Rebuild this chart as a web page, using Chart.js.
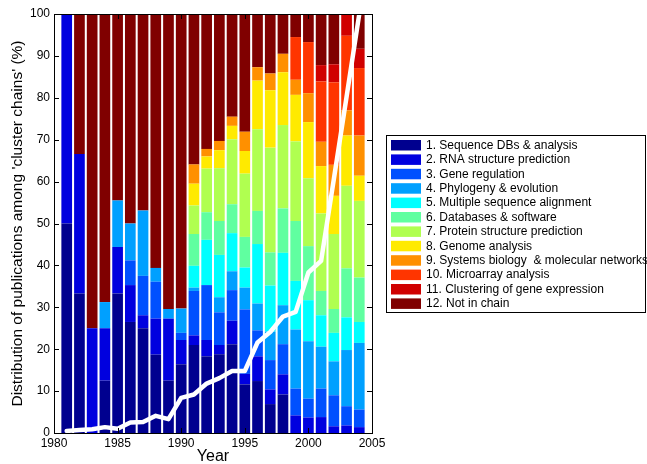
<!DOCTYPE html>
<html>
<head>
<meta charset="utf-8">
<script src="https://cdn.jsdelivr.net/npm/chart.js@4.4.1/dist/chart.umd.min.js"></script>
<style>
  html, body { margin: 0; padding: 0; background: #fff; }
  #wrap { width: 647px; height: 464px; }
</style>
</head>
<body>
<div id="wrap"><canvas id="clusterChart" width="647" height="464"></canvas></div>
<script>
// data (percent of publications per year)
const years = [1981, 1982, 1983, 1984, 1985, 1986, 1987, 1988, 1989, 1990, 1991, 1992,
  1993, 1994, 1995, 1996, 1997, 1998, 1999, 2000, 2001, 2002, 2003, 2004];

const categories = [
  "1. Sequence DBs & analysis",
  "2. RNA structure prediction",
  "3. Gene regulation",
  "4. Phylogeny & evolution",
  "5. Multiple sequence alignment",
  "6. Databases & software",
  "7. Protein structure prediction",
  "8. Genome analysis",
  "9. Systems biology  & molecular networks",
  "10. Microarray analysis",
  "11. Clustering of gene expression",
  "12. Not in chain"
];

const seqDBs = [50, 33.3, 0, 12.5, 33.3, 26.5, 25, 18.7, 12.5, 16.4, 21.0, 18.3, 18.8, 21.2, 11.6, 12.4, 6.9, 9.2, 0, 0, 0, 0, 0, 0];
const rnaStructure = [50, 33.3, 25, 12.5, 11.1, 8.8, 3.1, 8.6, 14.8, 5.8, 2.3, 3.9, 2.2, 5.6, 2.5, 5.9, 3.5, 4.8, 4.2, 3.7, 3.8, 1.6, 1.8, 1.4];
const geneRegulation = [0, 0, 0, 0, 0, 5.9, 9.4, 8.8, 0, 1.7, 10.6, 13.1, 7.8, 7.3, 15.4, 6.2, 7.0, 7.2, 6.4, 4.5, 6.8, 7.4, 4.6, 4.2];
const phylogeny = [0, 0, 0, 6.25, 11.1, 8.8, 15.6, 3.3, 2.3, 5.8, 0.8, 0, 3.6, 4.5, 5.2, 6.4, 6.8, 9.3, 14.1, 13.7, 10.0, 8.1, 13.4, 15.9];
const msa = [0, 0, 0, 0, 0, 0, 0, 0, 0, 0, 5.2, 10.8, 10.1, 9.1, 4.8, 14.2, 11.0, 12.5, 11.6, 9.8, 7.5, 6.8, 7.8, 5.0];
const dbSoftware = [0, 0, 0, 0, 0, 0, 0, 0, 0, 0, 7.6, 6.6, 8.1, 6.9, 7.3, 7.9, 7.9, 10.6, 14.3, 12.9, 5.8, 5.7, 11.7, 10.6];
const proteinStructure = [0, 0, 0, 0, 0, 0, 0, 0, 0, 0, 6.8, 10.4, 12.6, 15.5, 15.1, 19.5, 25.0, 19.9, 19.0, 16.2, 18.5, 17.9, 19.7, 18.3];
const genome = [0, 0, 0, 0, 0, 0, 0, 0, 0, 0, 5.2, 2.9, 4.3, 3.2, 5.4, 11.6, 13.7, 12.6, 11.1, 13.4, 11.3, 9.1, 12.0, 6.0];
const systemsBio = [0, 0, 0, 0, 0, 0, 0, 0, 0, 0, 4.6, 1.8, 2.2, 2.2, 4.6, 3.2, 4.0, 4.4, 3.6, 6.9, 5.8, 7.4, 6.0, 9.6];
const microarray = [0, 0, 0, 0, 0, 0, 0, 0, 0, 0, 0, 0, 0, 0, 0, 0, 0, 0, 10.2, 12.2, 14.4, 19.7, 17.8, 16.1];
const clustering = [0, 0, 0, 0, 0, 0, 0, 0, 0, 0, 0, 0, 0, 0, 0, 0, 0, 0, 0, 0, 3.9, 4.3, 5.2, 4.6];
const notInChain = [0, 33.4, 75, 68.75, 44.5, 50, 46.9, 60.6, 70.4, 70.3, 35.9, 32.2, 30.3, 24.5, 28.1, 12.7, 14.2, 9.5, 5.5, 6.7, 12.2, 12.0, 0, 8.3];

// white line
const publications = [0.5, 0.7, 0.9, 1.4, 1.0, 2.5, 2.6, 4.1, 3.3, 8.4, 9.2, 11.8, 13.1, 14.8, 14.8, 21.6, 24.1, 27.8, 28.9, 38.3, 41.1, 60.6, 80.2, 100];

const xTicks = [1980, 1985, 1990, 1995, 2000, 2005];
const yTicks = [0, 10, 20, 30, 40, 50, 60, 70, 80, 90, 100];

const series = [seqDBs, rnaStructure, geneRegulation, phylogeny, msa, dbSoftware,
  proteinStructure, genome, systemsBio, microarray, clustering, notInChain];

const colors = ["#00008f", "#0000df", "#0050ff", "#00a0ff", "#00ffff", "#60ffa0",
  "#b0ff50", "#ffea00", "#ff9000", "#ff3500", "#d00000", "#800000"];

const FONT = "'Liberation Sans', Arial, Helvetica, sans-serif";

function toPoints(vals) {
  return vals.map(function (v, i) { return { x: years[i], y: v }; });
}

const datasets = series.map(function (vals, i) {
  return {
    type: "bar",
    label: categories[i],
    data: toPoints(vals),
    backgroundColor: colors[i],
    borderWidth: 0,
    barPercentage: 0.84,
    categoryPercentage: 1.0,
    order: 1
  };
});

datasets.push({
  type: "line",
  label: "publications",
  data: toPoints(publications),
  yAxisID: "y2",
  borderColor: "#ffffff",
  borderWidth: 4.5,
  borderJoinStyle: "round",
  borderCapStyle: "round",
  pointRadius: 0,
  tension: 0,
  order: -1
});

// frame, inward ticks and the boxed legend
const matlabLook = {
  id: "matlabLook",
  afterDraw(chart) {
    const ctx = chart.ctx;
    const a = chart.chartArea;
    const xs = chart.scales.x;
    const ys = chart.scales.y;
    ctx.save();
    ctx.strokeStyle = "#000";
    ctx.lineWidth = 1;
    ctx.beginPath();
    yTicks.forEach(function (t) {
      const py = Math.round(ys.getPixelForValue(t)) + 0.5;
      ctx.moveTo(a.left, py); ctx.lineTo(a.left + 5, py);
      ctx.moveTo(a.right, py); ctx.lineTo(a.right - 5, py);
    });
    xTicks.forEach(function (t) {
      const px = Math.round(xs.getPixelForValue(t)) + 0.5;
      ctx.moveTo(px, a.bottom); ctx.lineTo(px, a.bottom - 5);
      ctx.moveTo(px, a.top); ctx.lineTo(px, a.top + 5);
    });
    ctx.stroke();
    ctx.strokeRect(Math.round(a.left) + 0.5, Math.round(a.top) + 0.5,
      Math.round(a.right - a.left), Math.round(a.bottom - a.top));

    // legend
    const lx = 386, ly = 135, rowH = 14.4;
    ctx.fillStyle = "#fff";
    ctx.fillRect(lx, ly, 259, 177);
    ctx.strokeRect(lx + 0.5, ly + 0.5, 259, 177);
    ctx.font = "12px " + FONT;
    ctx.textBaseline = "middle";
    ctx.textAlign = "left";
    chart.data.datasets.forEach(function (ds, i) {
      if (ds.type !== "bar") return;
      const cy = ly + 10 + i * rowH;
      ctx.fillStyle = ds.backgroundColor;
      ctx.fillRect(lx + 5, cy - 5, 30, 10.5);
      ctx.fillStyle = "#000";
      ctx.fillText(ds.label, lx + 40, cy + 0.5);
    });
    ctx.restore();
  }
};

const config = {
  type: "bar",
  data: { datasets: datasets },
  options: {
    responsive: false,
    animation: false,
    devicePixelRatio: 1,
    layout: { padding: { left: 8, right: 275, top: 14, bottom: 0 } },
    plugins: {
      legend: { display: false },
      tooltip: { enabled: false }
    },
    scales: {
      x: {
        type: "linear",
        min: 1980,
        max: 2005,
        stacked: true,
        offset: false,
        grid: { display: false, offset: false, drawTicks: false },
        border: { display: false },
        afterBuildTicks: function (scale) {
          scale.ticks = xTicks.map(function (v) { return { value: v }; });
        },
        ticks: {
          autoSkip: false,
          maxRotation: 0,
          padding: 3,
          color: "#000",
          font: { family: FONT, size: 12 },
          callback: function (v) { return String(v); }
        },
        title: {
          display: true,
          text: "Year",
          color: "#000",
          padding: 0,
          font: { family: FONT, size: 16, lineHeight: 0.9 }
        },
        afterFit: function (scale) { scale.height = 31; }
      },
      y: {
        min: 0,
        max: 100,
        stacked: true,
        grid: { display: false, drawTicks: false },
        border: { display: false },
        afterBuildTicks: function (scale) {
          scale.ticks = yTicks.map(function (v) { return { value: v }; });
        },
        ticks: {
          padding: 4,
          color: "#000",
          font: { family: FONT, size: 12 }
        },
        title: {
          display: true,
          text: "Distribution of publications among 'cluster chains' (%)",
          color: "#000",
          padding: 0,
          font: { family: FONT, size: 15.5 }
        },
        afterFit: function (scale) { scale.width = 46; }
      },
      y2: {
        display: false,
        min: 0,
        max: 100,
        stacked: false
      }
    }
  },
  plugins: [matlabLook]
};

const myChart = new Chart(document.getElementById("clusterChart"), config);
</script>
</body>
</html>
